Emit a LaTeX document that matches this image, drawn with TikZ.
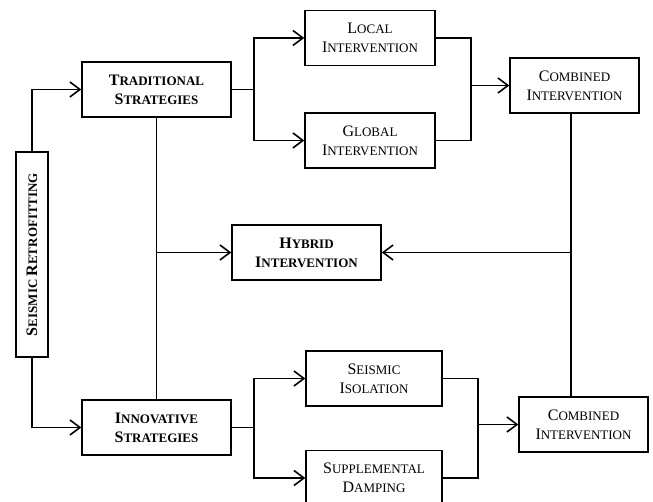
\documentclass[tikz,border=0pt]{standalone}
\usepackage{fontspec}
\setmainfont{Liberation Serif}
\usetikzlibrary{arrows.meta, positioning}
% first letter large, the rest as small capitals
\newcommand{\capsc}[2]{{\fontsize{16}{19}\selectfont #1}{\fontsize{13}{19}\selectfont\MakeUppercase{#2}}}

\begin{document}
\begin{tikzpicture}[x=1pt, y=-1pt,
  >={Straight Barb[length=10pt, width=15pt]}, node distance=46pt,
  box/.style={draw, line width=1.5pt, minimum height=55pt, inner sep=1pt,
              align=center, font=\fontsize{13}{19}\selectfont},
  boldbox/.style={box, minimum width=149pt, font=\bfseries\fontsize{13}{19}\selectfont},
  link/.style={line width=1.6pt},
  arrowlink/.style={link, ->}]
  \useasboundingbox (0,0) rectangle (653,502);
  \node[boldbox, rotate=90, minimum width=205pt, minimum height=32pt] (retro) at (32,254.5)
    {\capsc{S}{eismic} \capsc{R}{etrofitting}};
  \node[boldbox] (trad) at (156.5,89.5) {\capsc{T}{raditional}\\\capsc{S}{trategies}};
  \node[boldbox] (innov) at (156.5,427.5) {\capsc{I}{nnovative}\\\capsc{S}{trategies}};
  \node[boldbox] (hybrid) at (306.5,252.5) {\capsc{H}{ybrid}\\\capsc{I}{ntervention}};
  \node[box, minimum width=130pt] (local) at (370,38) {\capsc{L}{ocal}\\\capsc{I}{ntervention}};
  \node[box, minimum width=130pt, below=of local] (global) {\capsc{G}{lobal}\\\capsc{I}{ntervention}};
  \node[box, minimum width=129pt] (combA) at (574.5,85.5) {\capsc{C}{ombined}\\\capsc{I}{ntervention}};
  \node[box, minimum width=136pt] (iso) at (374,378.5) {\capsc{S}{eismic}\\\capsc{I}{solation}};
  \node[box, minimum width=136pt, below=43pt of iso] (damp) {\capsc{S}{upplemental}\\\capsc{D}{amping}};
  \node[box, minimum width=129pt] (combB) at (583.5,424.5) {\capsc{C}{ombined}\\\capsc{I}{ntervention}};
  % main split
  \draw[arrowlink] (retro.east) |- (trad.west);
  \draw[arrowlink] (retro.west) |- (innov.west);
  \draw[link] (trad.south) -- (innov.north);
  \coordinate (hybjoin) at (trad.south |- hybrid.west);
  \draw[arrowlink] (hybjoin) -- (hybrid.west);
  % traditional branch
  \draw[link] (trad.east) -- ++(22,0) coordinate (tradfork);
  \draw[arrowlink] (tradfork) |- (local.west);
  \draw[arrowlink] (tradfork) |- (global.west);
  \draw[link] (local.east) -- ++(35,0) coordinate (tradmerge) |- (global.east);
  \draw[arrowlink] (tradmerge |- combA.west) -- (combA.west);
  % right side
  \draw[link] ([xshift=-3.5pt]combA.south) -- ([xshift=-3.5pt]combA.south |- combB.north);
  \draw[arrowlink] ([xshift=-3.5pt]combA.south |- hybrid.east) -- (hybrid.east);
  % innovative branch
  \draw[link] (innov.east) -- ++(22,0) coordinate (innovfork);
  \draw[arrowlink] (innovfork) |- (iso.west);
  \draw[arrowlink] (innovfork) |- (damp.west);
  \draw[link] (iso.east) -- ++(35,0) coordinate (innovmerge) |- (damp.east);
  \draw[arrowlink] (innovmerge |- combB.west) -- (combB.west);
\end{tikzpicture}
\end{document}
